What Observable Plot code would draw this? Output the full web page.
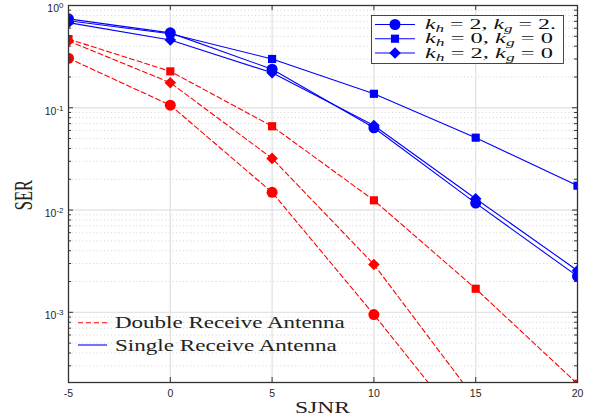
<!DOCTYPE html>
<html><head><meta charset="utf-8">
<script src="https://cdn.jsdelivr.net/npm/d3@7"></script>
<script src="https://cdn.jsdelivr.net/npm/@observablehq/plot@0.6"></script>
<style>body{margin:0;background:#fff} svg{display:block}</style>
</head><body><div id="chart"></div>
<script>
// ---- data ----
const sjnr = [-5, 0, 5, 10, 15, 20];
const singleK22 = [0.74, 0.54, 0.238, 0.0637, 0.0117, 0.00225];
const singleK00 = [0.71, 0.53, 0.30, 0.137, 0.051, 0.0173];
const singleK20 = [0.68, 0.46, 0.22, 0.067, 0.0129, 0.00256];
const doubleK22 = [0.305, 0.106, 0.0149, 0.00095, 0.000054];
const doubleK00 = [0.47, 0.227, 0.066, 0.01245, 0.0017, 0.0002];
const doubleK20 = [0.45, 0.176, 0.032, 0.00294, 0.00014];
const xTicks = [-5, 0, 5, 10, 15, 20];
const yMajor = [1e-3, 1e-2, 1e-1, 1];
const legendKh = ["2", "0", "2"];
const legendKg = ["2.", "0", "0"];
const legendSymbols = ["circle", "square", "diamond2"];
const antennaLabels = ["Double Receive Antenna", "Single Receive Antenna"];
const xLabel = "SJNR";
const yLabel = "SER";

// ---- layout ----
const W = 595, H = 419, mL = 68, mR = 18, mT = 5, mB = 37;
const iw = W - mL - mR, ih = H - mT - mB;
const yDomain = [2.06e-4, 1];
const yMinor = [];
for (let k = -4; k <= -1; k++) for (let m = 2; m <= 9; m++) {
  const v = m * Math.pow(10, k);
  if (v > yDomain[0] && v < yDomain[1]) yMinor.push(v);
}
const toRows = ys => ys.map((v, i) => ({x: sjnr[i], y: v}));
const BLUE = "#0000ff", RED = "#ff0000";
const symR = {circle: 5.5, square: 4.6, diamond2: 5.2};

const singles = [singleK22, singleK00, singleK20];
const doubles = [doubleK22, doubleK00, doubleK20];

const marks = [
  Plot.ruleY(yMinor, {stroke: "#c8c8c8", strokeDasharray: "1,2.6", strokeWidth: 0.8}),
  Plot.ruleY(yMajor.slice(0, 3), {stroke: "#e4e4e4", strokeWidth: 1.4}),
  Plot.ruleX(xTicks.slice(1, 5), {stroke: "#e4e4e4", strokeWidth: 1.4})
];
doubles.forEach((ys, i) => {
  marks.push(Plot.line(toRows(ys), {x: "x", y: "y", stroke: RED, strokeWidth: 1.1, strokeDasharray: "5,3", clip: true}));
  marks.push(Plot.dot(toRows(ys), {x: "x", y: "y", symbol: legendSymbols[i], r: symR[legendSymbols[i]], fill: RED, stroke: "none", clip: true}));
});
singles.forEach((ys, i) => {
  marks.push(Plot.line(toRows(ys), {x: "x", y: "y", stroke: BLUE, strokeWidth: 1.1, clip: true}));
  marks.push(Plot.dot(toRows(ys), {x: "x", y: "y", symbol: legendSymbols[i], r: symR[legendSymbols[i]], fill: BLUE, stroke: "none", clip: true}));
});
// inward ticks
marks.push(
  Plot.tickY(yMajor, {y: d => d, insetRight: iw - 5, stroke: "#333"}),
  Plot.tickY(yMinor, {y: d => d, insetRight: iw - 3, stroke: "#333"}),
  Plot.tickY(yMajor, {y: d => d, insetLeft: iw - 5, stroke: "#333"}),
  Plot.tickY(yMinor, {y: d => d, insetLeft: iw - 3, stroke: "#333"}),
  Plot.tickX(xTicks, {x: d => d, insetTop: ih - 5, stroke: "#333"}),
  Plot.tickX(xTicks, {x: d => d, insetBottom: ih - 5, stroke: "#333"}),
  Plot.frame({stroke: "#333", strokeWidth: 1.3}),
  Plot.axisX({ticks: xTicks, tickSize: 0, tickPadding: 7, label: null, tickFormat: d => String(d)}),
  Plot.axisY({ticks: yMajor, tickSize: 0, tickPadding: 5, label: null, tickFormat: d => "10^" + Math.round(Math.log10(d))})
);

const chart = Plot.plot({
  width: W, height: H, marginLeft: mL, marginRight: mR, marginTop: mT, marginBottom: mB,
  style: {fontFamily: "'Liberation Sans', Arial, sans-serif", fontSize: "10.5px", color: "#262626", background: "white"},
  x: {domain: [-5, 20]},
  y: {type: "log", domain: yDomain},
  marks
});
document.getElementById("chart").appendChild(chart);

const svg = d3.select(chart);
// superscript y tick labels
svg.selectAll('g[aria-label="y-axis tick label"] text').each(function() {
  const t = d3.select(this);
  const s = t.text();
  const exp = s.split("^")[1];
  t.text(null);
  t.append("tspan").attr("dy", 3.6).text("10");
  t.append("tspan").attr("dy", -4).attr("font-size", "8px").text(exp);
});

function stretched(parent, x, y, target, anchor) {
  const g = parent.append("g").attr("transform", `translate(${x},${y})`);
  const s = g.append("g");
  const t = s.append("text").attr("text-anchor", anchor || "start");
  return {t, fit() {
    const w = t.node().getComputedTextLength();
    s.attr("transform", `scale(${target / w},1)`);
  }};
}
const SERIF = "'Liberation Serif', 'Times New Roman', serif";

// axis titles
{
  const a = stretched(svg, 322.5, 413, 55, "middle");
  a.t.attr("font-family", SERIF).attr("font-size", "17.5px").attr("fill", "#222").text(xLabel);
  a.fit();
  const g = svg.append("g").attr("transform", "translate(32,195) scale(1.55,1) rotate(-90)");
  g.append("text").attr("text-anchor", "middle").attr("font-family", SERIF).attr("font-size", "16.5px").attr("fill", "#222").text(yLabel);
}

// legend (top right)
{
  const lg = svg.append("g");
  lg.append("rect").attr("x", 371.5).attr("y", 15.5).attr("width", 192).attr("height", 48)
    .attr("fill", "white").attr("stroke", "#333").attr("stroke-width", 0.9);
  const rows = [24.5, 38.7, 53];
  const widths = [131, 128, 128];
  rows.forEach((ry, i) => {
    lg.append("line").attr("x1", 375).attr("x2", 415).attr("y1", ry).attr("y2", ry).attr("stroke", BLUE).attr("stroke-width", 1.1);
    const sym = {circle: d3.symbolCircle, square: d3.symbolSquare, diamond2: d3.symbolDiamond2}[legendSymbols[i]];
    const r = symR[legendSymbols[i]];
    lg.append("path").attr("d", d3.symbol(sym, Math.PI * r * r)()).attr("transform", `translate(395,${ry})`).attr("fill", BLUE);
    const a = stretched(lg, 425, ry + 4.5, widths[i]);
    a.t.attr("font-family", SERIF).attr("font-size", "14px").attr("fill", "#111");
    a.t.append("tspan").attr("font-style", "italic").text("k");
    a.t.append("tspan").attr("font-style", "italic").attr("font-size", "10px").attr("dy", 3).text("h");
    a.t.append("tspan").attr("dy", -3).text(" = " + legendKh[i] + ", ");
    a.t.append("tspan").attr("font-style", "italic").text("k");
    a.t.append("tspan").attr("font-style", "italic").attr("font-size", "10px").attr("dy", 3).text("g");
    a.t.append("tspan").attr("dy", -3).text(" = " + legendKg[i]);
    a.fit();
  });
}

// legend (bottom left)
{
  const lg = svg.append("g");
  const rows = [322.7, 345];
  const colors = [RED, BLUE];
  const dashes = ["5,3", null];
  const widths = [230, 222];
  rows.forEach((ry, i) => {
    const ln = lg.append("line").attr("x1", 78).attr("x2", 107).attr("y1", ry).attr("y2", ry).attr("stroke", colors[i]).attr("stroke-width", 1.1);
    if (dashes[i]) ln.attr("stroke-dasharray", dashes[i]);
    const a = stretched(lg, 115, ry + 5.5, widths[i]);
    a.t.attr("font-family", SERIF).attr("font-size", "16px").attr("fill", "#222").text(antennaLabels[i]);
    a.fit();
  });
}
</script>
</body></html>
